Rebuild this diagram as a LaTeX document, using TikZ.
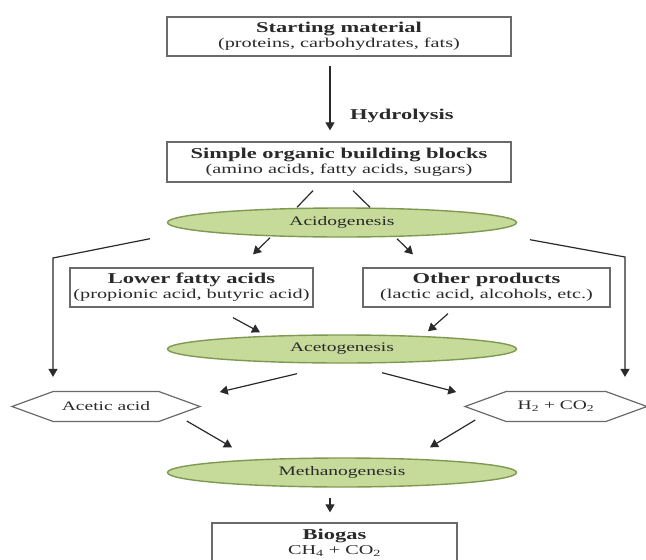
\documentclass[tikz,border=0pt]{standalone}
\usepackage{fontspec}
\setmainfont{Liberation Serif}[FakeStretch=1.5]
\usetikzlibrary{arrows.meta,calc,shapes.geometric,shapes.symbols}
\definecolor{leaf}{HTML}{C6DA9A}
\definecolor{leafedge}{HTML}{7E9A52}
\definecolor{ink}{HTML}{2A2A2A}
\definecolor{frame}{HTML}{6A6A6A}
\newcommand{\headtxt}{\fontsize{15}{17}\selectfont\bfseries}
\newcommand{\subtxt}{\fontsize{13.5}{15}\selectfont}
\newcommand{\smalltxt}{\fontsize{13}{15}\selectfont}
\tikzset{
  box/.style={draw=frame, line width=1.3pt, rectangle, align=center, font=\subtxt, inner sep=0pt, text=ink, fill=white},
  ellip/.style={draw=leafedge, line width=1.4pt, ellipse, fill=leaf, inner sep=0pt, minimum width=349pt, minimum height=29pt, font=\smalltxt, text=ink},
  hexa/.style={draw=frame, line width=1.2pt, signal, signal to=east and west, signal pointer angle=40, inner sep=0pt, minimum width=188pt, minimum height=30pt, font=\smalltxt, text=ink},
  arr/.style={-{Triangle[length=8pt, width=9pt]}, line width=1.2pt, draw=ink},
  ln/.style={line width=1.2pt, draw=ink},
  lbl/.style={font=\headtxt, text=ink, inner sep=0pt},
}
\begin{document}
\begin{tikzpicture}[x=1pt, y=-1pt]
\useasboundingbox (0,0) rectangle (646,560);
% boxes
\node[box, minimum width=344pt, minimum height=39pt] (start) at (339,36.5) {{\headtxt Starting material}\\(proteins, carbohydrates, fats)};
\node[box, minimum width=344pt, minimum height=40pt] (simple) at (339,162) {{\headtxt Simple organic building blocks}\\(amino acids, fatty acids, sugars)};
\node[box, minimum width=243pt, minimum height=39pt] (lower) at (191.5,287.5) {{\headtxt Lower fatty acids}\\(propionic acid, butyric acid)};
\node[box, minimum width=247pt, minimum height=39pt] (other) at (486.5,287.5) {{\headtxt Other products}\\(lactic acid, alcohols, etc.)};
\node[box, minimum width=245pt, minimum height=40pt] (biogas) at (334.5,543) {{\headtxt Biogas}\\CH\textsubscript{4} + CO\textsubscript{2}};
% stages
\node[ellip] (acido) at (342,222.5) {Acidogenesis};
\node[ellip, minimum height=28pt] (aceto) at (342,349) {Acetogenesis};
\node[ellip] (metha) at (342,472.5) {Methanogenesis};
% intermediates
\node[hexa] (acetic) at (106,406.5) {Acetic acid};
\node[hexa, minimum width=182pt] (htwo) at (556,406.5) {H\textsubscript{2} + CO\textsubscript{2}};
\node[lbl, anchor=west] (hydro) at (350,116) {Hydrolysis};
\coordinate (lbend) at (53,258);
\coordinate (rbend) at (625,257);
% connectors
\draw[arr] ($(start.south)+(-9,9)$) -- ($(simple.north)+(-9,-11)$);
\draw[ln] ($(simple.south)+(-26,8)$) -- ($(acido.north)+(-45,0)$);
\draw[ln] ($(simple.south)+(14,8)$) -- ($(acido.north)+(28,0)$);
\draw[arr] ($(acido.south)+(-72,0)$) -- ($(lower.north)+(61.5,-13)$);
\draw[arr] ($(acido.south)+(55,1)$) -- ($(other.north)+(-73.5,-13)$);
\draw[arr] ($(acido.south)+(-192,1)$) -- (lbend) -- ($(acetic.north)+(-53,-14)$);
\draw[arr] ($(acido.south)+(188,2)$) -- (rbend) -- ($(htwo.north)+(69,-14)$);
\draw[arr] ($(lower.south)+(41.5,10)$) -- ($(aceto.north)+(-82,-2)$);
\draw[arr] ($(other.south)+(-38.5,6)$) -- ($(aceto.north)+(86,-3)$);
\draw[arr] ($(aceto.south)+(-45,10)$) -- ($(acetic.east)+(18,-14.5)$);
\draw[arr] ($(aceto.south)+(40,9)$) -- ($(htwo.west)+(-7,-14.5)$);
\draw[arr] ($(acetic.east)+(-15,14.5)$) -- ($(metha.north)+(-110,-10)$);
\draw[arr] ($(htwo.west)+(12,13.5)$) -- ($(metha.north)+(88,-10)$);
\draw[arr] ($(metha.south)+(-12,10)$) -- ($(biogas.north)+(-4.5,-10)$);
\end{tikzpicture}
\end{document}
